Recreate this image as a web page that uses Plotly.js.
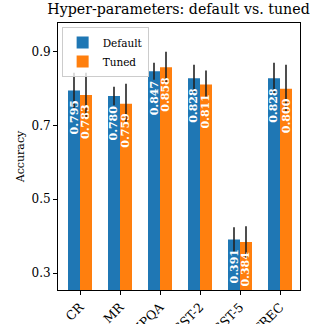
<!DOCTYPE html>
<html><head><meta charset="utf-8">
<script src="https://cdn.plot.ly/plotly-3.0.1.min.js"></script>
<style>html,body{margin:0;padding:0;background:#fff}#c{width:316px;height:324px}</style>
</head><body><div id="c"></div>
<script>
const categories = ["CR", "MR", "MPQA", "SST-2", "SST-5", "TREC"];
const defaultAcc = [0.795, 0.780, 0.847, 0.828, 0.391, 0.828];
const tunedAcc = [0.783, 0.759, 0.858, 0.811, 0.384, 0.800];
const defaultErr = [0.048, 0.025, 0.023, 0.037, 0.033, 0.042];
const tunedErr = [0.060, 0.054, 0.042, 0.038, 0.043, 0.065];
const yTicks = [0.3, 0.5, 0.7, 0.9];

const FONT = "DejaVu Serif";
function mk(name, vals, errs, color) {
  return {
    type: "bar", name: name, x: categories, y: vals,
    marker: {color: color, line: {width: 0}},
    error_y: {type: "data", array: errs, visible: true, color: "#222", thickness: 1.6, width: 0},
    hoverinfo: "skip"
  };
}
const data = [mk("Default", defaultAcc, defaultErr, "#1f77b4"), mk("Tuned", tunedAcc, tunedErr, "#ff7f0e")];
const annotations = [];
[[defaultAcc, -6], [tunedAcc, 6]].forEach(([vals, sh]) => {
  vals.forEach((v, i) => annotations.push({
    x: categories[i], y: v, xref: "x", yref: "y", xshift: sh, yshift: -8,
    text: v.toFixed(3), textangle: -90, showarrow: false,
    xanchor: "center", yanchor: "top",
    font: {family: FONT, size: 11, color: "#fff", weight: "bold"}
  }));
});
const layout = {
  width: 316, height: 324,
  margin: {l: 58, r: 16, t: 23, b: 34},
  paper_bgcolor: "#fff", plot_bgcolor: "#fff",
  font: {family: FONT, size: 11, color: "#000"},
  title: {text: "Hyper-parameters: default vs. tuned", font: {family: FONT, size: 14.2, color: "#000"}, x: 0.565, xanchor: "center", y: 0.988, yanchor: "top"},
  barmode: "group", bargap: 0.4, bargroupgap: 0,
  showlegend: true,
  legend: {x: 0.015, y: 0.985, xanchor: "left", yanchor: "top", bgcolor: "rgba(255,255,255,0.8)", bordercolor: "#ccc", borderwidth: 1, font: {family: FONT, size: 10.5}, itemwidth: 30, tracegroupgap: 0},
  annotations: annotations,
  xaxis: {range: [-0.55, 5.5], showline: true, mirror: true, linecolor: "#000", linewidth: 1, ticks: "outside", ticklen: 4, tickcolor: "#000", tickangle: -45, tickfont: {family: FONT, size: 12.5}, showgrid: false, zeroline: false, fixedrange: true},
  yaxis: {range: [0.254, 0.978], tickvals: yTicks, ticktext: yTicks.map(v => v.toFixed(1)), showline: true, mirror: true, linecolor: "#000", linewidth: 1, ticks: "outside", ticklen: 4, tickcolor: "#000", tickfont: {family: FONT, size: 12}, showgrid: false, zeroline: false, title: {text: "Accuracy", font: {family: FONT, size: 11}, standoff: 4}, fixedrange: true}
};
Plotly.newPlot("c", data, layout, {staticPlot: true, displayModeBar: false});
</script></body></html>
